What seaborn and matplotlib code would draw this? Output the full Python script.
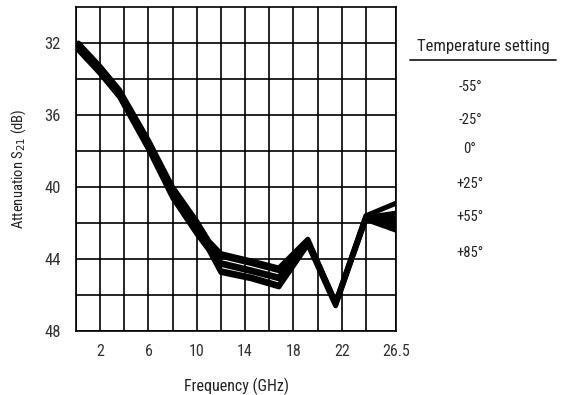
import numpy as np
import pandas as pd
import matplotlib
matplotlib.use("Agg")
import matplotlib.pyplot as plt
import seaborn as sns
from matplotlib import font_manager

# ---- data ----
freq = [0.2, 2.0, 3.6, 6.0, 8.0, 10.0, 11.0, 12.0, 14.5, 16.8, 19.2, 21.5, 24.0, 26.5]
temps = ["-55°", "-25°", "0°", "+25°", "+55°", "+85°"]
att_m55 = [32.0, 33.3, 34.6, 37.4, 40.0, 41.9, 43.0, 43.7, 44.1, 44.5, 42.9, 46.4, 41.6, 40.9]
att_m25 = [32.1, 33.4, 34.7, 37.5, 40.1, 42.0, 43.1, 43.85, 44.25, 44.65, 43.0, 46.4, 41.7, 41.45]
att_0 = [32.2, 33.5, 34.8, 37.6, 40.3, 42.2, 43.2, 44.2, 44.6, 45.0, 43.0, 46.5, 41.7, 41.75]
att_p25 = [32.3, 33.5, 34.8, 37.7, 40.4, 42.3, 43.3, 44.3, 44.7, 45.1, 43.1, 46.5, 41.7, 42.0]
att_p55 = [32.3, 33.6, 34.9, 37.8, 40.5, 42.5, 43.4, 44.65, 45.0, 45.45, 43.1, 46.5, 41.8, 42.2]
att_p85 = [32.4, 33.7, 35.0, 37.9, 40.6, 42.6, 43.5, 44.75, 45.1, 45.55, 43.2, 46.6, 41.8, 42.4]
series = [att_m55, att_m25, att_0, att_p25, att_p55, att_p85]

xtick_vals = [0, 2, 4, 6, 8, 10, 12, 14, 16, 18, 20, 22, 24, 26.5]
xtick_labels = ["", "2", "", "6", "", "10", "", "14", "", "18", "", "22", "", "26.5"]
ytick_vals = [32, 34, 36, 38, 40, 42, 44, 46, 48]
ytick_labels = ["32", "", "36", "", "40", "", "44", "", "48"]

rows = []
for t, vals in zip(temps, series):
    for f, v in zip(freq, vals):
        rows.append({"freq": f, "att": v, "temp": t})
df = pd.DataFrame(rows)

# ---- style ----
sns.set_style("white")
fam = "DejaVu Sans"
for cand in ["Liberation Sans Narrow", "Roboto Condensed", "Liberation Sans"]:
    try:
        font_manager.findfont(cand, fallback_to_default=False)
        fam = cand
        break
    except Exception:
        pass
plt.rcParams["font.family"] = [fam, "DejaVu Sans"]
plt.rcParams["text.color"] = "#222222"
plt.rcParams["axes.labelcolor"] = "#222222"

W, H = 561, 395
fig = plt.figure(figsize=(W / 100, H / 100), dpi=100)
ax = fig.add_axes([76 / W, 1 - 331 / H, 320 / W, 324 / H])

sns.lineplot(data=df, x="freq", y="att", hue="temp", palette=["black"] * 6,
             legend=False, linewidth=3.6, estimator=None, sort=False, ax=ax)

ax.set_xlim(0, 26.5)
ax.set_ylim(48, 30)
ax.set_xticks(xtick_vals)
ax.set_xticklabels(xtick_labels, fontsize=11.5)
ax.set_yticks(ytick_vals)
ax.set_yticklabels(ytick_labels, fontsize=12)
ax.tick_params(axis="x", direction="out", length=4, width=1.2, color="black", pad=5,
               labelcolor="#333333")
ax.tick_params(axis="y", direction="out", length=6, width=1.2, color="black", pad=5,
               labelcolor="#333333")
ax.grid(True, color="black", linewidth=1.2)
for s in ax.spines.values():
    s.set_color("black")
    s.set_linewidth(1.2)

ax.set_xlabel("Frequency (GHz)", fontsize=11.5, labelpad=14)
ax.set_ylabel("Attenuation S$_{21}$ (dB)", fontsize=10.5, labelpad=12)

# ---- legend block on the right ----
def px(x, y):
    return x / W, 1 - y / H

fig.text(*px(483, 46), "Temperature setting", fontsize=12, ha="center", va="center")
fig.add_artist(plt.Line2D([410 / W, 556 / W], [1 - 60 / H, 1 - 60 / H],
                          color="#222222", linewidth=1.3))
leg_y = [87, 120, 149, 184, 217, 253]
for t, yy in zip(temps, leg_y):
    fig.text(*px(470, yy), t, fontsize=10.5, ha="center", va="center")

fig.savefig("out.png", dpi=100)
